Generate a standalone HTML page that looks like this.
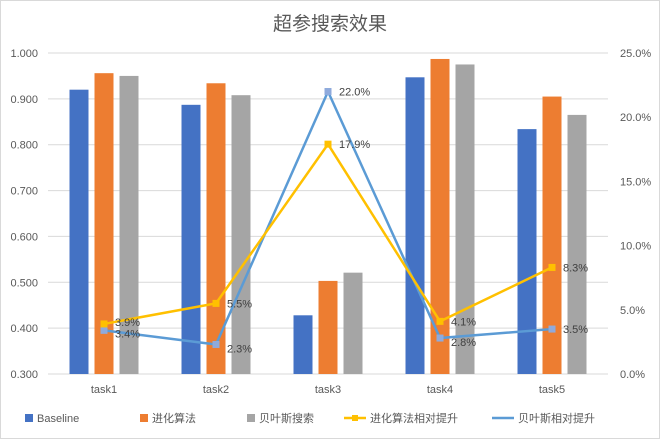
<!DOCTYPE html>
<html><head><meta charset="utf-8"><style>
body{margin:0;background:#fff;font-family:"Liberation Sans","Noto Sans CJK SC",sans-serif;}
svg text{font-family:"Liberation Sans","Noto Sans CJK SC",sans-serif;}
</style></head><body>
<svg id="c" width="660" height="439">
<rect x="0.5" y="0.5" width="659" height="438" fill="#fff" stroke="#d9d9d9"/>
<text x="330" y="30" text-anchor="middle" font-size="19" fill="#595959">超参搜索效果</text>
<g id="g"></g>
</svg>
<script>
const categories=["task1","task2","task3","task4","task5"];
const baseline=[0.920,0.887,0.428,0.947,0.834];
const evo=[0.956,0.934,0.503,0.987,0.905];
const bayes=[0.950,0.908,0.521,0.975,0.865];
const evoGain=[3.9,5.5,17.9,4.1,8.3];
const bayesGain=[3.4,2.3,22.0,2.8,3.5];
const leftTicks=[0.3,0.4,0.5,0.6,0.7,0.8,0.9,1.0];
const rightTicks=[0,5,10,15,20,25];
const NS="http://www.w3.org/2000/svg";
const g=document.getElementById('g');
const X0=48,X1=608,Y0=374,Y1=53;
const band=(X1-X0)/categories.length;
const cx=i=>X0+band*(i+0.5);
const yL=v=>Y0-(v-0.3)/(1.0-0.3)*(Y0-Y1);
const yR=v=>Y0-v/25*(Y0-Y1);
function el(t,a,txt){const e=document.createElementNS(NS,t);for(const k in a)e.setAttribute(k,a[k]);if(txt!=null)e.textContent=txt;g.appendChild(e);return e;}
leftTicks.forEach(v=>{
 const l=el('line',{x1:X0,x2:X1,y1:yL(v),y2:yL(v),stroke:'#d9d9d9','stroke-width':1});
 
 
 const t=el('text',{x:38,y:yL(v)+4,'text-anchor':'end','font-size':11,fill:'#595959'},v.toFixed(3));
 
 
});
rightTicks.forEach(v=>{
 const t=el('text',{x:620,y:yR(v)+4,'font-size':11,fill:'#595959'},v.toFixed(1)+'%');
 
 
});
const series=[[baseline,'#4472c4','bar-baseline'],[evo,'#ed7d31','bar-evo'],[bayes,'#a5a5a5','bar-bayes']];
const bw=19,step=25;
categories.forEach((c,i)=>{
 series.forEach((s,j)=>{
  const x=cx(i)+(j-1)*step-bw/2;
  const r=el('rect',{x:x,y:yL(s[0][i]),width:bw,height:Y0-yL(s[0][i]),fill:s[1]});
  
  
 });
 const t=el('text',{x:cx(i),y:393,'text-anchor':'middle','font-size':11,fill:'#595959'},c);
 
 
});
function line(vals,color,name,marker,mcolor,dy){
 const p=el('polyline',{points:vals.map((v,i)=>cx(i)+','+yR(v)).join(' '),fill:'none',stroke:color,'stroke-width':2.5});
 
 
 vals.forEach((v,i)=>{
  const m=el('rect',{x:cx(i)-3.5,y:yR(v)-3.5,width:7,height:7,fill:mcolor});
  
  
  const t=el('text',{x:cx(i)+11,y:yR(v)+4+dy[i],'font-size':11,fill:'#404040'},v.toFixed(1)+'%');
  
  
 });
}
line(bayesGain,'#5b9bd5','bayes-gain-line',true,'#8faadc',[3,4,0,4,0]);
line(evoGain,'#ffc000','evo-gain-line',true,'#ffc000',[-2,0,0,0,0]);
// legend
const leg=[['rect','#4472c4','Baseline',25],['rect','#ed7d31','进化算法',140],['rect','#a5a5a5','贝叶斯搜索',247],['line','#ffc000','进化算法相对提升',348],['line','#5b9bd5','贝叶斯相对提升',496]];
leg.forEach(l=>{
 if(l[0]==='rect'){const r=el('rect',{x:l[3],y:414,width:8,height:8,fill:l[1]});}
 else{const r=el('line',{x1:l[3]-4,x2:l[3]+18,y1:418,y2:418,stroke:l[1],'stroke-width':2.5});
  if(l[1]==='#ffc000'){const m=el('rect',{x:l[3]+4,y:415,width:6,height:6,fill:l[1]});}}
 const t=el('text',{x:l[3]+(l[0]==='rect'?12:22),y:422,'font-size':11,fill:'#595959'},l[2]);
 
 
});
</script>
</body></html>
